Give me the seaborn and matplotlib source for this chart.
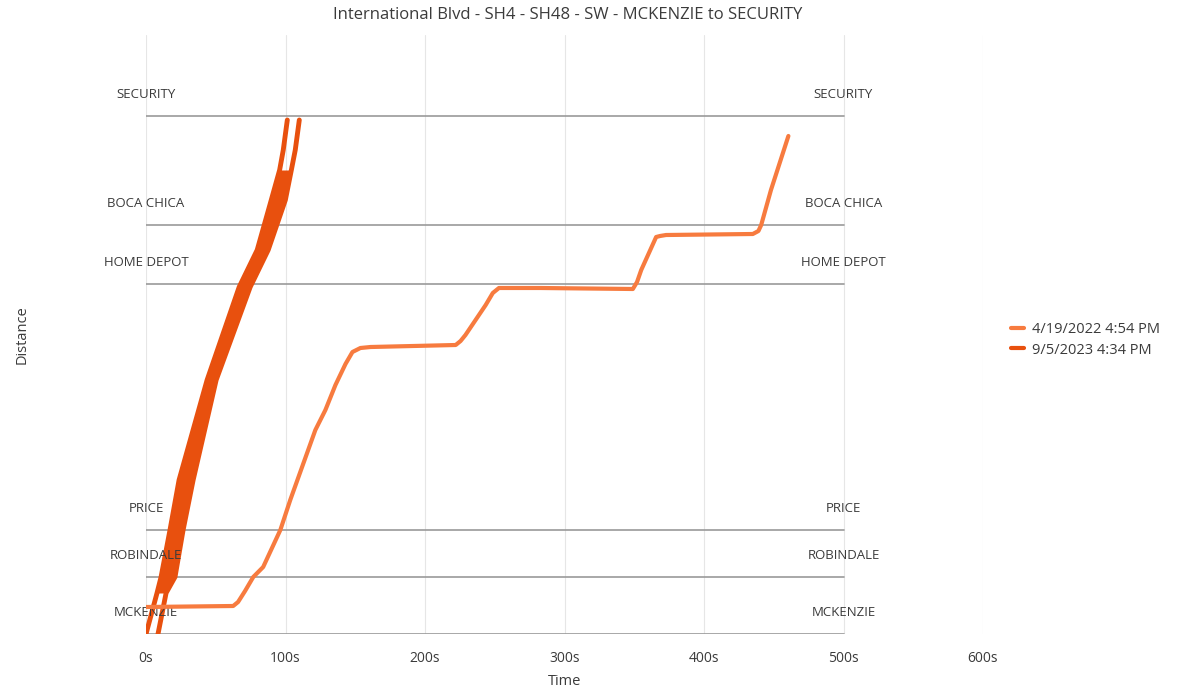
import matplotlib
matplotlib.use("Agg")
import matplotlib.pyplot as plt
from matplotlib.lines import Line2D
import seaborn as sns
import pandas as pd

TITLE = "International Blvd - SH4 - SH48 - SW - MCKENZIE to SECURITY"

# intersections (distance in ft from MCKENZIE)
INTERSECTIONS = ["MCKENZIE", "ROBINDALE", "PRICE", "HOME DEPOT", "BOCA CHICA", "SECURITY"]
INTERSECTION_DIST = [0, 570, 1040, 3500, 4090, 5180]

# run 1: 4/19/2022 4:54 PM
RUN1_LABEL = "4/19/2022 4:54 PM"
RUN1_TIME = [0, 62.5, 66, 71, 76.9, 84, 96.3, 103.4, 121.4, 128.6, 135.8, 143, 148, 153.7,
             161, 222, 225.5, 229, 243.5, 248.6, 253, 283, 349, 352, 355, 365.7, 368.5,
             372.8, 435, 439, 441, 448, 460.5]
RUN1_DIST = [270, 280, 320, 430, 570, 670, 1040, 1340, 2040, 2240, 2490, 2700, 2820, 2860,
             2870, 2890, 2930, 2990, 3290, 3410, 3460, 3460, 3450, 3520, 3640, 3970, 3980,
             3990, 4000, 4030, 4090, 4440, 4980]

# run 2: 9/5/2023 4:34 PM (zig-zag band, drawn by its two edges)
RUN2_LABEL = "9/5/2023 4:34 PM"
RUN2_DIST = [0, 410, 570, 1040, 1540, 2540, 3470, 3840, 4340, 4640, 4840, 5140]
RUN2_T_LEFT = [0, 7.9, 10.8, 17.2, 23.7, 43.8, 66.8, 79.7, 89.8, 95.8, 98.4, 101.3]
RUN2_T_RIGHT = [8.6, 14.4, 20.8, 26.6, 33.8, 50.3, 74.7, 87.6, 99.9, 104.2, 107, 109.9]

X_TICKS = [0, 100, 200, 300, 400, 500, 600]

C_LIGHT = "#F77B3F"
C_DARK = "#E8500E"
TEXT = "#3b3b3b"

sns.set_theme(style="white")
plt.rcParams["font.family"] = ["Open Sans", "DejaVu Sans"]

fig = plt.figure(figsize=(11.88, 6.87), dpi=100)
ax = fig.add_axes([146 / 1188, 53 / 687, 837 / 1188, 599 / 687])

# vertical grid
for t in X_TICKS:
    ax.axvline(t, color="#e6e6e6", lw=0.8, zorder=0)

# intersection lines + labels
for name, d in zip(INTERSECTIONS, INTERSECTION_DIST):
    ax.plot([0, 500], [d, d], color="#9a9a9a", lw=1.2, zorder=1)
    for x in (0, 500):
        ax.text(x, d + 150, name, ha="center", va="bottom", fontsize=9.5, color=TEXT)

# run 2 band
band = pd.DataFrame({"dist": RUN2_DIST, "left": RUN2_T_LEFT, "right": RUN2_T_RIGHT})
inner = band[(band["dist"] >= 410) & (band["dist"] <= 4640)]
ax.fill_betweenx(inner["dist"], inner["left"], inner["right"], color=C_DARK, lw=0, zorder=2)
sns.lineplot(data=band, x="left", y="dist", sort=False, estimator=None,
             color=C_DARK, lw=3.5, ax=ax, zorder=2)
sns.lineplot(data=band, x="right", y="dist", sort=False, estimator=None,
             color=C_DARK, lw=3.5, ax=ax, zorder=2)

# run 1
run1 = pd.DataFrame({"time": RUN1_TIME, "dist": RUN1_DIST})
sns.lineplot(data=run1, x="time", y="dist", sort=False, estimator=None,
             color=C_LIGHT, lw=3, ax=ax, zorder=3)

ax.set_xlim(0, 600)
ax.set_ylim(0, 5990)
ax.set_xticks(X_TICKS)
ax.set_xticklabels([f"{t}s" for t in X_TICKS], fontsize=10, color=TEXT)
ax.set_yticks([])
ax.tick_params(axis="x", length=0, pad=12)
for s in ax.spines.values():
    s.set_visible(False)
ax.set_xlabel("Time", fontsize=10.5, color=TEXT, labelpad=6)
ax.set_ylabel("")
fig.text(22 / 1188, 1 - 335 / 687, "Distance", rotation=90, ha="center", va="center",
         fontsize=10.5, color=TEXT)
fig.text(568 / 1188, 1 - 15 / 687, TITLE, ha="center", va="center", fontsize=12, color=TEXT)

handles = [Line2D([0], [0], color=C_LIGHT, lw=3), Line2D([0], [0], color=C_DARK, lw=3)]
fig.legend(handles, [RUN1_LABEL, RUN2_LABEL], loc="center left",
           bbox_to_anchor=(998 / 1188, 1 - 340 / 687), frameon=False,
           handlelength=0.9, handletextpad=0.5, labelspacing=0.35,
           prop={"size": 10.5}, labelcolor=TEXT)

fig.savefig("out.png", dpi=100)
